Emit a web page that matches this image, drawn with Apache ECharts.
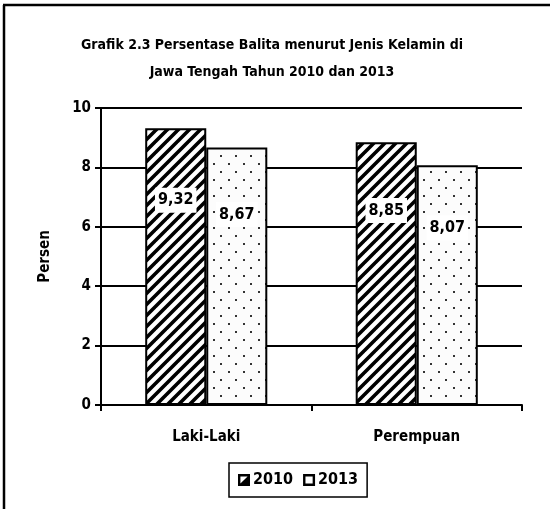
<!DOCTYPE html>
<html>
<head>
<meta charset="utf-8">
<script src="https://cdn.jsdelivr.net/npm/echarts@6/dist/echarts.min.js"></script>
<style>
html,body{margin:0;padding:0;background:#fff;}
#chart{width:550px;height:509px;}
</style>
</head>
<body>
<div id="chart"></div>
<script>
const categories = ['Laki-Laki', 'Perempuan'];
const seriesNames = ['2010', '2013'];
const values2010 = [9.32, 8.85];
const values2013 = [8.67, 8.07];
const yTicks = [0, 2, 4, 6, 8, 10];

const FONT = "'DejaVu Sans Condensed', 'Liberation Sans Narrow', 'Arial Narrow', sans-serif";

function hatchPattern() {
  const s = 11;
  const c = document.createElement('canvas');
  c.width = s; c.height = s;
  const g = c.getContext('2d');
  g.fillStyle = '#fff'; g.fillRect(0, 0, s, s);
  g.strokeStyle = '#000'; g.lineWidth = 3.6;
  g.beginPath();
  g.moveTo(-1, s + 1); g.lineTo(s + 1, -1);
  g.moveTo(-s - 1, s + 1); g.lineTo(1, -1);
  g.moveTo(-1, 2 * s + 1); g.lineTo(2 * s + 1, -1);
  g.stroke();
  return c;
}
function dotPattern() {
  const w = 15, h = 16;
  const c = document.createElement('canvas');
  c.width = w; c.height = h;
  const g = c.getContext('2d');
  g.fillStyle = '#fcfcfc'; g.fillRect(0, 0, w, h);
  g.fillStyle = '#333';
  g.fillRect(3, 3, 2, 2);
  g.fillRect(10, 11, 2, 2);
  return c;
}

const chart = echarts.init(document.getElementById('chart'), null, { renderer: 'canvas' });

const labelCommon = {
  show: true,
  position: ['50%', '26%'],
  align: 'center',
  verticalAlign: 'middle',
  fontFamily: FONT,
  fontWeight: 'bold',
  fontSize: 16,
  color: '#000',
  backgroundColor: '#fff',
  padding: [5, 3, 4, 3],
  formatter: p => p.value.toFixed(2).replace('.', ',')
};

chart.setOption({
  animation: false,
  backgroundColor: '#fff',
  title: {
    text: 'Grafik 2.3 Persentase Balita menurut Jenis Kelamin di\nJawa Tengah Tahun 2010 dan 2013',
    left: 267,
    top: 27,
    textAlign: 'center',
    textStyle: { fontFamily: FONT, fontWeight: 'bold', fontSize: 14, lineHeight: 27, color: '#000' }
  },
  legend: {
    data: [
      { name: seriesNames[0], icon: 'path://M0,0H10V10H0Z M2,2V8H8V2Z M8,2L8,8L2,8Z', itemStyle: { color: '#000', borderWidth: 0 } },
      { name: seriesNames[1], icon: 'path://M0,0H10V10H0Z M2,2V8H8V2Z', itemStyle: { color: '#000', borderWidth: 0 } }
    ],
    left: 229,
    top: 463,
    itemWidth: 12,
    itemHeight: 12,
    itemGap: 10,
    padding: [9, 9, 9, 9],
    borderColor: '#000',
    borderWidth: 1.5,
    textStyle: { fontFamily: FONT, fontWeight: 'bold', fontSize: 16, color: '#000', padding: [0, 0, 0, -2] }
  },
  grid: { left: 101, right: 28, top: 108, bottom: 104 },
  xAxis: {
    type: 'category',
    data: categories,
    axisLine: { lineStyle: { color: '#000', width: 2 } },
    axisTick: { show: true, length: 6, lineStyle: { color: '#000', width: 2 } },
    axisLabel: { fontFamily: FONT, fontWeight: 'bold', fontSize: 15, color: '#000', margin: 25 }
  },
  yAxis: {
    type: 'value',
    min: yTicks[0],
    max: yTicks[yTicks.length - 1],
    interval: 2,
    name: 'Persen',
    nameLocation: 'middle',
    nameGap: 48,
    nameTextStyle: { fontFamily: FONT, fontWeight: 'bold', fontSize: 15, color: '#000' },
    axisLine: { show: true, lineStyle: { color: '#000', width: 2 } },
    axisTick: { show: true, length: 6, lineStyle: { color: '#000', width: 2 } },
    axisLabel: { fontFamily: FONT, fontWeight: 'bold', fontSize: 15, color: '#000', margin: 10 },
    splitLine: { show: true, lineStyle: { color: '#000', width: 2 } }
  },
  graphic: [
    { type: 'line', shape: { x1: 3, y1: 5, x2: 550, y2: 5 }, style: { stroke: '#000', lineWidth: 2.5 }, z: 10 },
    { type: 'line', shape: { x1: 4, y1: 5, x2: 4, y2: 509 }, style: { stroke: '#000', lineWidth: 2.5 }, z: 10 }
  ],
  series: [
    {
      name: seriesNames[0],
      type: 'bar',
      data: values2010,
      barGap: '0%',
      barCategoryGap: '42%',
      itemStyle: { color: { image: hatchPattern(), repeat: 'repeat' }, borderColor: '#000', borderWidth: 2 },
      label: labelCommon
    },
    {
      name: seriesNames[1],
      type: 'bar',
      data: values2013,
      barGap: '0%',
      barCategoryGap: '42%',
      itemStyle: { color: { image: dotPattern(), repeat: 'repeat' }, borderColor: '#000', borderWidth: 2 },
      label: labelCommon
    }
  ]
});
</script>
</body>
</html>
